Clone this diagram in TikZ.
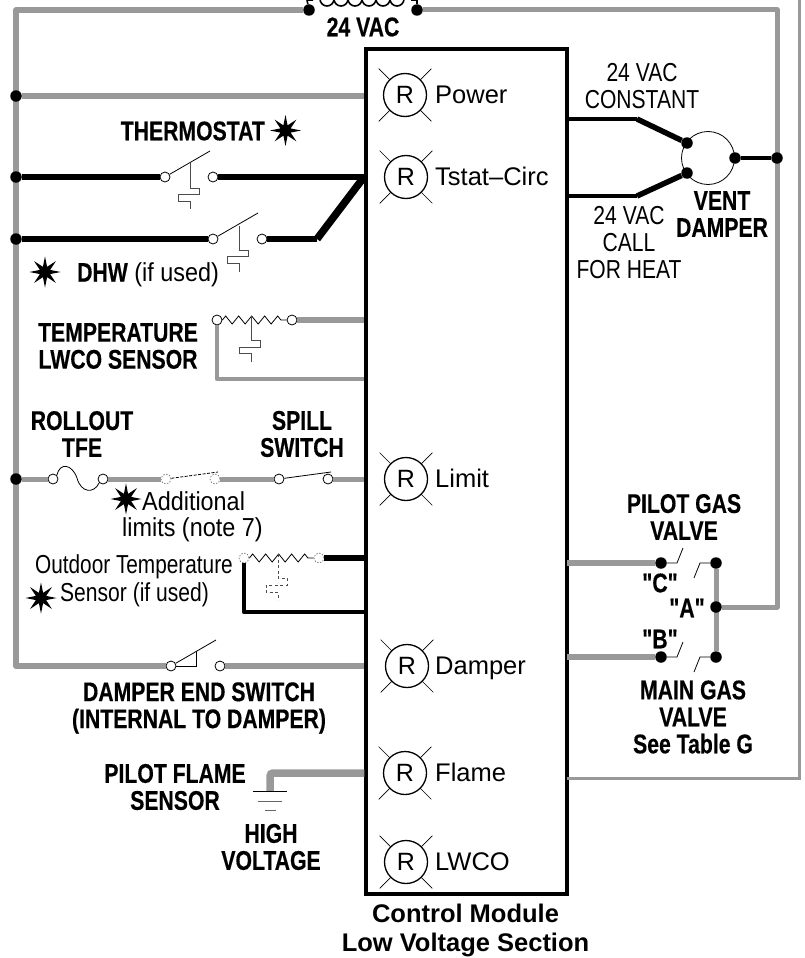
\documentclass[tikz,border=0pt]{standalone}
\usepackage{fontspec}
\setmainfont{Liberation Sans}
\newfontfamily\narrowfont[FakeStretch=0.81]{Liberation Sans}
\newfontfamily\outfont[FakeStretch=0.8]{Liberation Sans}
\newfontfamily\midfont[FakeStretch=0.9]{Liberation Sans}
\newfontfamily\narrowbold[UprightFont=* Bold,FakeStretch=0.785,FakeBold=0.4]{Liberation Sans}
\usetikzlibrary{decorations.pathmorphing,shapes.geometric}
\tikzset{
  wiregray/.style={draw=gray!80,line width=6pt},
  wireblack/.style={draw=black,line width=6pt},
  thin line/.style={draw=black,line width=0.8pt},
  blackdot/.style={circle,fill=black,inner sep=0pt,minimum size=11.5pt},
  opendot/.style={circle,draw=black,fill=white,line width=0.8pt,inner sep=0pt,minimum size=10pt},
  dashdot/.style={opendot,dashed,draw=gray,dash pattern=on 1.5pt off 1.5pt},
  sparkle/.style={star,star points=8,star point ratio=2.8,fill=black,inner sep=0pt,minimum size=31pt},
  led/.style={circle,draw=black,line width=1.3pt,inner sep=0pt,minimum size=43pt,font=\fontsize{25}{27}\selectfont},
  boldlabel/.style={font=\narrowbold\fontsize{27}{27}\selectfont,align=center,inner sep=0pt},
  textlabel/.style={font=\narrowfont\fontsize{26}{27}\selectfont,align=center,inner sep=0pt},
  wide label/.style={font=\fontsize{25.5}{27}\selectfont,inner sep=0pt,anchor=base west}
}

\begin{document}
\begin{tikzpicture}[x=1pt,y=-1pt]
  \useasboundingbox (0,0) rectangle (804,958);
  \clip (0,0) rectangle (804,958);

  % terminals of the transformer and left rail
  \node[blackdot] (coilA) at (309,10) {};
  \node[blackdot] (coilB) at (417,10) {};
  \node[opendot] (endA) at (171,666) {};
  \node[opendot] (endB) at (220,666) {};
  \coordinate (railTL) at (16,10);
  \coordinate (railTR) at (777,10);
  \coordinate (railBL) at (16,666);
  \coordinate (railBR) at (777,607);
  \draw[wiregray,line join=round] (coilA)--(railTL)--(railBL)--(endA);

  % coil
  \draw[line width=1.6pt] (coilA)--(307,0)--(313,0);
  \draw[line width=1.6pt] (coilB)--(417,0)--(411,0);
  \foreach \i in {0,...,5}
    \draw[line width=1.6pt] (320+\i*14,-1) arc[start angle=180,end angle=0,radius=7];
  \node[boldlabel] (vac) at (363,27) {24 VAC};

  % module
  \node[draw=black,line width=3.5pt,minimum width=201pt,minimum height=845pt,inner sep=0pt] (module) at (466.5,471.5) {};
  \node[font=\bfseries\fontsize{25.5}{29}\selectfont,align=center,inner sep=0pt] (modlabel) at (465.5,930) {Control Module\\Low Voltage Section};

  % indicator lights
  \foreach \nm/\yy/\xx/\txt in {power/95/405/Power,tstat/177/406/Tstat--Circ,limit/479/406/Limit,damper/666/407/Damper,flame/773/405/Flame,lwco/862/406/LWCO}{
    \node[led] (\nm) at (\xx,\yy) {R};
    \node[wide label] (\nm txt) at (435,\yy+8) {\txt};
    \foreach \ang in {45,135,225,315}
      \draw[line width=0.7pt] (\nm.\ang)--+(\ang:15pt);
  }

  % power feed
  \node[blackdot] (nPower) at (16,96) {};
  \draw[wiregray] (nPower)--(module.west |- nPower);

  % thermostat
  \node[blackdot] (nTstat) at (16,177) {};
  \node[opendot] (tsA) at (165,177) {};
  \node[opendot] (tsB) at (213,177) {};
  \coordinate (modT) at (364,177);
  \draw[wireblack] (nTstat)--(tsA);
  \draw[wireblack] (tsB)--(modT);
  \draw[thin line] (tsA)--(210,151);
  \draw[thin line,draw=black!70] (190,163)--(190,188)--(199,188)--(199,194)--(178,194)--(178,201)--(190,201)--(190,209);
  \node[boldlabel,anchor=east] (tstatlabel) at (265,131) {THERMOSTAT};
  \node[sparkle] (starT) at (285.5,130.5) {};

  % dhw
  \node[blackdot] (nDhw) at (16,239) {};
  \node[opendot] (dhwA) at (213,239) {};
  \node[opendot] (dhwB) at (262,239) {};
  \coordinate (dhwK) at (317,239);
  \draw[wireblack] (nDhw)--(dhwA);
  \draw[wireblack] (dhwB)--(dhwK);
  \draw[wireblack,line width=7.5pt,line join=round] (dhwK)--(modT);
  \draw[thin line] (dhwA)--(258,213);
  \draw[thin line,draw=black!70] (239,226)--(239,250)--(248,250)--(248,256)--(227,256)--(227,263)--(239,263)--(239,272);
  \node[sparkle] (starD) at (45,272) {};
  \node[inner sep=0pt,anchor=west] (dhwlabel) at (77,275) {\narrowbold\fontsize{27}{27}\selectfont DHW\midfont\fontsize{26}{27}\selectfont{} (if used)};

  % temperature sensor
  \node[opendot] (tempA) at (217,320) {};
  \node[opendot] (tempB) at (292,320) {};
  \coordinate (tempC) at (217,379);
  \draw[wiregray] (tempB)--(module.west |- tempB);
  \draw[wiregray,line width=4.5pt,line join=round] (tempA)--(tempC)--(module.west |- tempC);
  \draw[thin line,decorate,decoration={zigzag,segment length=13pt,amplitude=4pt}] (tempA)--(tempB);
  \draw[thin line,draw=black!70] (251,316)--(251,340)--(260,340)--(260,347)--(239,347)--(239,353)--(251,353)--(251,362);
  \node[boldlabel] (templabel) at (118,346) {TEMPERATURE\\LWCO SENSOR};

  % limit string
  \node[blackdot] (nLimit) at (16,479) {};
  \node[opendot] (tfeA) at (53,479) {};
  \node[opendot] (tfeB) at (103,479) {};
  \node[dashdot] (addA) at (166,479) {};
  \node[dashdot] (addB) at (215,479) {};
  \node[opendot] (spillA) at (279,479) {};
  \node[opendot] (spillB) at (328,479) {};
  \draw[wiregray,line width=5pt] (nLimit)--(tfeA);
  \draw[wiregray,line width=5pt] (tfeB)--(addA);
  \draw[wiregray,line width=5pt] (addB)--(spillA);
  \draw[wiregray,line width=5pt] (spillB)--(module.west |- spillB);
  \draw[thin line] (tfeA.north east) .. controls (60,462) and (72,464) .. (77,478) .. controls (81,493) and (94,494) .. (tfeB.south west);
  \draw[thin line,dashed,dash pattern=on 3pt off 1.5pt] (addA)--(218,472);
  \draw[thin line] (spillA)--(331,472);
  \node[boldlabel] (rollout) at (82,434) {ROLLOUT\\TFE};
  \node[boldlabel] (spill) at (302,434) {SPILL\\SWITCH};
  \node[sparkle] (starL) at (126,499) {};
  \node[inner sep=0pt,anchor=west,font=\midfont\fontsize{26}{27}\selectfont] (addlabel) at (142,501) {Additional};
  \node[inner sep=0pt,anchor=west,font=\midfont\fontsize{26}{27}\selectfont] (limlabel) at (122,530) {limits (note 7)};

  % outdoor sensor
  \node[dashdot] (outA) at (244,558) {};
  \node[dashdot] (outB) at (319,558) {};
  \coordinate (outC) at (244,612);
  \draw[wireblack] (outB)--(module.west |- outB);
  \draw[wireblack,line width=4.5pt,line join=round] (outA)--(outC)--(module.west |- outC);
  \draw[thin line,decorate,decoration={zigzag,segment length=13pt,amplitude=4pt}] (outA)--(outB);
  \draw[thin line,draw=black!70,dashed,dash pattern=on 3pt off 2.5pt] (278,554)--(278,578)--(287,578)--(287,585)--(266,585)--(266,592)--(278,592)--(278,600);
  \node[textlabel,anchor=east,font=\outfont\fontsize{26}{27}\selectfont] (outlabel) at (233,567) {Outdoor Temperature};
  \node[sparkle] (starO) at (41,598) {};
  \node[textlabel,anchor=west] (senslabel) at (60,595) {Sensor (if used)};

  % damper end switch
  \draw[wiregray] (endB)--(module.west |- endB);
  \draw[thin line] (endA)--(216,640);
  \draw[thin line] (196,651)--(196,666)--(endA);
  \node[boldlabel] (endlabel) at (199,708) {DAMPER END SWITCH\\(INTERNAL TO DAMPER)};

  % pilot flame
  \coordinate (gndTop) at (270,791);
  \draw[wiregray,line width=7.5pt,rounded corners=3pt] (module.west |- flame)--(270,773)--(gndTop);
  \draw[thin line] (253,791)--(287,791);
  \draw[thin line,draw=black!60] (258,801)--(282,801);
  \draw[thin line,draw=black!60] (265,810)--(276,810);
  \node[boldlabel] (flamelabel) at (175,787) {PILOT FLAME\\SENSOR};
  \node[boldlabel] (hvlabel) at (271,847) {HIGH\\VOLTAGE};

  % gas valve
  \node[blackdot] (pilotL) at (661,563) {};
  \node[blackdot] (pilotR) at (716,563) {};
  \node[blackdot] (mainL) at (661,657) {};
  \node[blackdot] (mainR) at (716,657) {};
  \draw[wiregray] (567,563)--(pilotL);
  \draw[wiregray] (567,657)--(mainL);
  \draw[wiregray,line width=5pt] (pilotR)--(mainR);
  \node[blackdot] (valveA) at (716,607) {};
  \draw[wiregray,line width=5pt,line join=round] (coilB)--(railTR)--(railBR)--(valveA);
  \draw[thin line] (pilotL)--(677,563)--(683,548);
  \draw[thin line] (pilotR)--(700,563)--(694,578);
  \draw[thin line] (mainL)--(677,657)--(683,642);
  \draw[thin line] (mainR)--(700,657)--(694,672);
  \node[boldlabel] (pilotlabel) at (684,517) {PILOT GAS\\VALVE};
  \node[boldlabel] (clabel) at (660,583) {"C"};
  \node[boldlabel] (alabel) at (687,608) {"A"};
  \node[boldlabel] (blabel) at (660,639) {"B"};
  \node[boldlabel] (mainlabel) at (693,717) {MAIN GAS\\VALVE\\See Table G};

  % vent damper
  \node[circle,draw=black,line width=0.8pt,minimum size=53pt,inner sep=0pt] (vent) at (708,158) {};
  \node[blackdot] (ventA) at (687,143) {};
  \node[blackdot] (ventB) at (687,173) {};
  \node[blackdot] (ventC) at (735,158) {};
  \node[blackdot] (ventD) at (777,158) {};
  \coordinate (ventAk) at (637,119);
  \coordinate (ventBk) at (637,196);
  \draw[wireblack,line width=4.5pt] (567,119)--(ventAk);
  \draw[wireblack,line width=5.5pt] (ventAk)--(ventA);
  \draw[wireblack,line width=4.5pt] (567,196)--(ventBk);
  \draw[wireblack,line width=5.5pt] (ventBk)--(ventB);
  \draw[wireblack,line width=4.5pt] (ventC)--(ventD);
  \node[textlabel] (constlabel) at (642,86) {24 VAC\\CONSTANT};
  \node[textlabel] (calllabel) at (629,243) {24 VAC\\CALL\\FOR HEAT};
  \node[boldlabel] (ventlabel) at (722,214) {VENT\\DAMPER};

  % thin return
  \draw[draw=gray!80,line width=3pt] (567,778)--(799.5,778)--(799.5,-2);
\end{tikzpicture}
\end{document}
